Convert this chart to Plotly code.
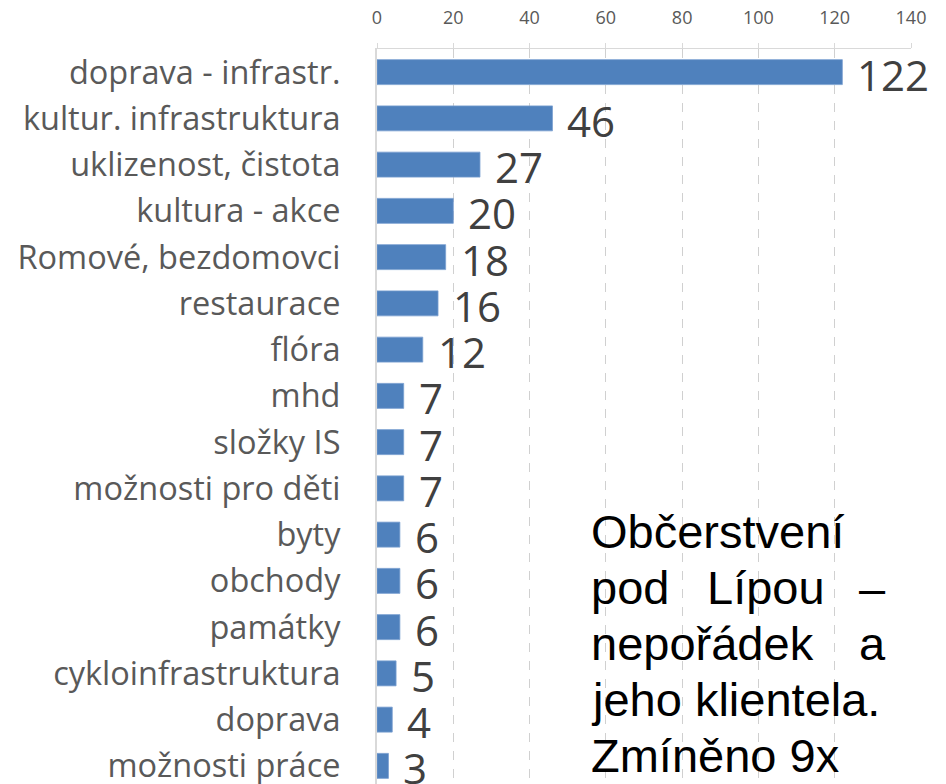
import plotly.graph_objects as go

categories = ["doprava - infrastr.", "kultur. infrastruktura", "uklizenost, čistota",
              "kultura - akce", "Romové, bezdomovci", "restaurace", "flóra", "mhd",
              "složky IS", "možnosti pro děti", "byty", "obchody", "památky",
              "cykloinfrastruktura", "doprava", "možnosti práce"]
values = [122, 46, 27, 20, 18, 16, 12, 7, 7, 7, 6, 6, 6, 5, 4, 3]
x_ticks = [0, 20, 40, 60, 80, 100, 120, 140]

note_lines = [
    ["Občerstvení"],
    ["pod", "Lípou", "–"],
    ["nepořádek", "a"],
    ["jeho klientela."],
    ["Zmíněno 9x"],
]

W, H = 946, 784
ML, MR, MT, MB = 377, 35, 49, 0
PW, PH = W - ML - MR, H - MT - MB

fig = go.Figure()
fig.add_trace(go.Bar(
    x=values, y=categories, orientation="h",
    marker=dict(color="#4f81bd", line=dict(color="#7aa0d0", width=0.8)),
    hoverinfo="x+y",
))

annotations = []
for c, v in zip(categories, values):
    annotations.append(dict(
        x=v, y=c, xref="x", yref="y", text=str(v), showarrow=False,
        xanchor="left", yanchor="middle", xshift=13, yshift=-2,
        font=dict(family="Open Sans", size=42, color="#404040"),
    ))

def px_x(p):
    return (p - ML) / PW

def px_y(p):
    return (H - MB - p) / PH

left_px, right_px = 589, 888
line_centers = [531, 587, 643, 699, 755]
note_font = dict(family="Liberation Sans, Arial", size=47, color="#000000")
for words, yc in zip(note_lines, line_centers):
    if len(words) == 1:
        annotations.append(dict(x=px_x(left_px), y=px_y(yc), xref="paper", yref="paper",
                                text=words[0], showarrow=False, xanchor="left",
                                yanchor="middle", font=note_font))
    else:
        n = len(words)
        for i, w in enumerate(words):
            if i == 0:
                xa, xp = "left", left_px
            elif i == n - 1:
                xa, xp = "right", right_px
            else:
                xa, xp = "center", 766
            annotations.append(dict(x=px_x(xp), y=px_y(yc), xref="paper", yref="paper",
                                    text=w, showarrow=False, xanchor=xa,
                                    yanchor="middle", font=note_font))

fig.update_layout(
    width=W, height=H,
    margin=dict(l=ML, r=MR, t=MT, b=MB, pad=0, autoexpand=False),
    paper_bgcolor="white", plot_bgcolor="white",
    showlegend=False,
    bargap=0.46,
    annotations=annotations,
    xaxis=dict(
        side="top", range=[0, 140], tickvals=x_ticks, ticktext=[str(t) for t in x_ticks],
        showgrid=True, gridcolor="#d0d0d0", griddash="dash", gridwidth=1.2,
        showline=True, linecolor="#d9d9d9", linewidth=1,
        ticks="outside", ticklen=5, tickcolor="#d9d9d9",
        zeroline=False, automargin=False,
        tickfont=dict(family="Open Sans", size=18, color="#595959"),
        ticklabelstandoff=12,
        fixedrange=True,
    ),
    yaxis=dict(
        type="category", categoryorder="array", categoryarray=categories,
        range=[15 + (PH / 46.25 - 15.5), -0.5],
        showgrid=False, showline=True, linecolor="#d9d9d9", linewidth=2,
        ticks="", zeroline=False, automargin=False,
        tickfont=dict(family="Open Sans", size=32.5, color="#595959"),
        ticklabelstandoff=28,
        fixedrange=True,
    ),
)

fig.write_html(
    "out.html",
    config={"displayModeBar": False},
    post_script="document.body.style.margin='0';document.body.style.overflow='hidden';",
)
